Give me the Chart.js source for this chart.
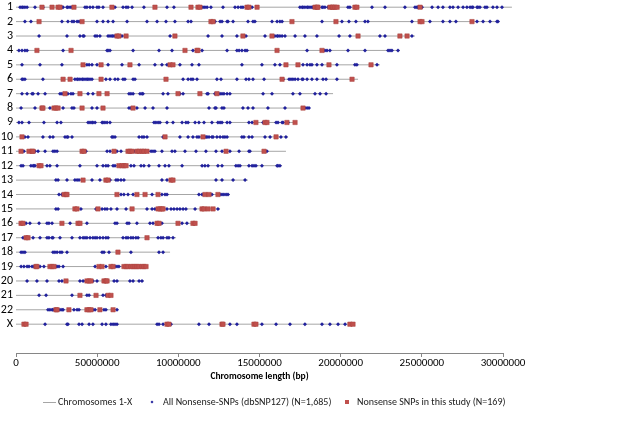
<!DOCTYPE html>
<html>
<head>
<meta charset="utf-8">
<script src="https://cdn.jsdelivr.net/npm/chart.js@4.4.0/dist/chart.umd.min.js"></script>
<style>
  html, body { margin: 0; padding: 0; background: #fff; }
  #wrap { width: 637px; height: 421px; }
</style>
</head>
<body>
<div id="wrap"><canvas id="snp-chart" width="637" height="421"></canvas></div>
<script>
// chromosome names, top to bottom
const chromNames = ['1','2','3','4','5','6','7','8','9','10','11','12','13','14','15','16','17','18','19','20','21','22','X'];

// length of each chromosome line, in Mb of the x axis
const chromLenMb = [305.5, 298, 245.8, 236.5, 224.2, 210.7, 195.3, 181.1, 173.1, 167.6, 166.3, 163.9,
                    142.9, 131.8, 125.7, 110.9, 98.6, 94.9, 80.7, 78.8, 59.8, 62.8, 208.8];

// x axis tick labels as printed on the chart
const xTickLabels = ['0', '50000000', '10000000', '15000000', '20000000', '25000000', '30000000'];

// all nonsense SNPs (dbSNP127), positions in Mb, one list per chromosome
const allSnpsMb = [
  [2.5,3.7,4.3,5.5,6.8,11.7,16.6,28.3,29,31.4,32,33.3,34.5,42.5,43.7,45.6,47.4,49.9,51.1,53.6,61,65.9,67.8,69,71.5,78.8,93,97.3,115.2,116.4,117.7,120.1,127.5,134.9,136.8,138.6,139.8,145.4,174.9,176.2,176.8,178,179.3,179.9,181.1,182.3,183,188.5,189.1,190.3,192.2,204.5,205.7,219.3,227.3,239.6,245.8,247,247.6,250.1,256.3,260,263,267.3,269.2,272.3,275.4,277.8,279.7,280.9,281.5,284,284.6,285.8,288.9,290.1,293.8,296.3,299.4,302.5],
  [5.5,9.2,28.3,32,34.5,35.7,37.6,38.8,49.9,53.6,56.7,59.8,68.4,80.7,86.9,92.4,97.9,106,107.8,122.6,125.7,126.9,130,130.6,133.7,142.9,146,147.2,157.7,160.8,162.6,163.9,188.5,200.8,205.1,209.4,215,216.8,243.9,255,263,267.3,271,284,287.7,292,296.3,296.9],
  [14.2,31.4,39.4,41.3,41.9,48.7,49.9,51.7,56.7,57.9,59.1,59.8,61,65.3,94.9,118.3,126.9,136.1,141.7,153.4,159.5,160.8,161.4,162.6,163.9,165.7,171.9,178,185.4,199,205.7,224.2,227.3,243.9],
  [1.8,3.7,5.5,6.8,29,56.1,56.7,57.9,72.1,88.1,96.1,109,114.6,130,136.1,137.4,139.2,141.1,142.3,179.3,190.3,191.6,193.4,204.5,215,229.2,230.4,231.6,235.3],
  [3.7,14.8,28.3,43.7,45,46.8,49.9,56.7,65.3,75.8,85.6,89.9,93,101,108.4,112.7,139.2,151.5,159.5,162.6,176.8,179.3,181.1,182.3,185.4,188.5,197.7,208.8,210,222.4],
  [3.7,4.3,5.5,16.6,36.3,37.6,38.2,39.4,40.7,41.3,42.5,43.7,44.4,45.6,46.8,55.4,57.9,61,62.8,65.9,67.1,72.1,73.3,102.9,106,107.8,109,111.5,123.8,126.3,136.1,141.7,143.5,146,152.8,164.5,168.2,169.4,170.6,171.9,173.7,176.2,176.8,179.3,182.3,185.4,189.1,191,197.7],
  [3.7,6.8,9.9,10.5,13.6,17.9,27.1,28.3,32,33.9,35.1,44.4,47.4,69.6,70.8,72.1,76.4,77.6,78.2,90.6,93.6,101,102.9,117.7,118.3,122.6,124.4,125.7,126.9,128.1,130,131.8,152.2,157.7,170.6,174.9,184.2,187.3,191],
  [3.1,11.7,20.9,29,34.5,35.7,46.8,49.9,69.6,70.8,74.5,79.5,84.4,93,118.9,122.6,123.2,126.9,128.1,139.8,142.9,146,155.2,165.7,178,179.3,180.5],
  [1.8,3.7,8,17.2,25.3,27.7,44.4,45.6,46.8,47.4,48.7,53,53.6,54.8,56.1,57.9,85,86.2,87.5,88.7,93,96.7,102.3,104.7,106,110.3,112.7,115.8,120.7,124.4,125.7,126.9,130,131.8,143.5,145.4,152.2,160.2,161.4,163.9,164.5,167.6],
  [5.5,7.4,16.6,20.9,22.8,30.2,31.4,32,34.5,59.1,59.8,61,75.8,77.6,78.8,80.7,90.6,101,106,109,111.5,112.7,117,117.7,118.9,120.7,121.4,123.8,125.7,127.5,128.7,130,139.2,140.4,143.5,145.4,153.4,156.5,163.2,166.3],
  [4.9,11.7,13.6,17.9,22.8,24,25.3,43.1,56.1,57.9,62.2,64.7,73.3,81.3,83.2,84.4,85.6,89.9,96.1,97.9,104.1,110.9,117,123.2,126.9,131.8,137.4,143.5,144.1,154.6],
  [3.1,4.3,9.2,10.5,11.1,11.7,19.1,20.9,25.3,39.4,49.9,53.6,55.4,56.7,59.8,61,70.8,72.7,77,78.8,81.9,88.1,91.8,94.2,102.3,114.6,116.4,118.3,124.4,126.9,135.5,136.8,138,143.5,145.4,146.6,147.8,151.5,160.8,161.4,162.6],
  [24.6,25.9,31.4,36.3,37.6,38.8,46.8,51.7,57.9,61.6,62.8,64.7,66.5,89.9,93,123.2,126.9,133.7,141.1],
  [26.5,28.3,64.7,66.5,69,72.1,83.8,89.9,91.8,93,112.7,114.6,120.7,125.7,126.9,128.1,129.4,130.6],
  [24.6,25.9,40,49.3,53,54.8,56.1,58.5,62.2,67.8,80.7,83.8,85.6,93,95.5,97.3,99.2,101,102.9,104.7,110.3,124.4],
  [6.2,8.6,14.2,19.1,20.3,22.2,33.3,43.7,61,62.2,68.4,69.6,74.5,82.5,84.4,89.9,102.3,105.3],
  [4.3,10.5,14.8,19.1,20.3,22.2,22.8,27.1,34.5,39.4,41.3,42.5,43.7,45.6,47.4,48.7,49.9,51.7,53.6,55.4,56.7,65.9,67.8,69,70.8,72.1,73.9,75.2,87.5,89.3,90.6,93,94.2,96.7],
  [3.1,4.3,5.5,22.8,24,25.3,27.1,28.3,31.4,53,54.2,57.3,70.8,88.1,90.6],
  [3.1,4.9,6.8,8,9.9,11.1,14.8,17.2,24.6,25.3,26.5,29,48.7,55.4,61,62.2,63.4,70.2,76.4],
  [6.8,12.9,19.1,26.5,28.3,39.4,41.3,43.1,47.4,49.9,60.4,62.2,70.2,72.1,75.8,77.6],
  [14.2,18.5,34.5,43.7,45,53.6,55.4],
  [19.7,20.9,22.2,22.8,27.1,28.3,29,35.7,37.6,38.8,47.4,48.7,54.2,55.4,62.2],
  [17.9,31.4,32,38.8,40.7,45,47.4,53,55.4,58.5,59.8,61,62.2,86.9,88.1,90.6,95.5,112.7,118.9,131.8,136.1,151.5,160.2,168.8,178,188.5,193.4,198.4,202.7]
];

// nonsense SNPs found in this study, positions in Mb, one list per chromosome
const studySnpsMb = [
  [16,22.2,25.9,27.1,35.7,59.1,85.6,107.8,112.1,113.3,142.3,143.5,148.5,184.2,185.4,186,193.4,194.7,195.3,196.5,197.8,208.8,210,248.9],
  [14.2,40.7,120.1,121.4,170,197.1,248.9,250.1,280.9],
  [62.2,63.4,67.8,97.9,139.8,157.7,210.7,236.5,240.9],
  [12.9,33.9,104.1,111.5,112.1,160.8,188.5],
  [41.3,52.4,70.2,94.9,96.7,166.3,173.7,192.8,218.7],
  [29,33.3,52.4,92.4,163.9,207],
  [30.2,39.4,51.1,56.1,99.8,113.3,123.8],
  [16,16.6,23.4,24.6,25.9,40.7,53.6,72.1,176.8],
  [147.8,153.4,154.6,166.9,171.9],
  [3.7,91.8,115.2,160.2],
  [3.1,8,9.9,10.5,40.7,41.9,60.4,69,70.2,71.5,74.5,75.8,77.6,78.8,80.7,129.4,152.8],
  [14.2,15.4,63.4,65.3,66.5,67.8],
  [41.3,55.4,56.7,95.5,96.7],
  [29.6,30.8,31.4,62.2,74.5,79.5,87.5,116.4,118.9,124.4],
  [36.3,37.6,50.5,71.5,87.5,88.7,89.9,90.6,114.6,115.8,118.3,121.4],
  [3.1,4.3,28.3,38.2,39.4,86.9,88.1,99.8,109,110.3],
  [6.2,7.4,80.7],
  [62.8],
  [12.3,12.9,20.9,22.2,23.4,51.1,53,58.5,59.8,66.5,67.8,69,70.8,72.1,73.3,74.5,75.8,77.6,78.8,80.1],
  [30.8,43.7,45,46.2,54.2,55.4,56.1],
  [39.4,49.3,56.7,58.5],
  [24.6,25.3,32.6,43.7,45,46.2,51.7,59.8],
  [4.9,6.2,93,94.2,126.9,127.5,146.6,147.8,205.7,207.6]
];

const legendLabels = ['Chromosomes 1-X', 'All Nonsense-SNPs (dbSNP127) (N=1,685)', 'Nonsense SNPs in this study (N=169)'];

const MB = 1000000;
const lineColor = '#a6a6a6';
const blueColor = '#20209c';
const redColor = '#c0504d';
const fontFamily = 'Carlito, Lato, sans-serif';

// row value on the y axis: chromosome 1 at the top
const rowY = i => chromNames.length + 1 - i;

const chromLines = chromNames.map((name, i) => ({
  label: legendLabels[0],
  data: [{x: 0, y: rowY(i)}, {x: chromLenMb[i] * MB, y: rowY(i)}],
  showLine: true,
  borderColor: lineColor,
  borderWidth: 1,
  pointRadius: 0,
  clip: false,
  order: 3
}));

const allPoints = allSnpsMb.flatMap((list, i) => list.map(v => ({x: v * MB, y: rowY(i)})));
const studyPoints = studySnpsMb.flatMap((list, i) => list.map(v => ({x: v * MB, y: rowY(i)})));

// legend drawn under the axis title
const bottomLegend = {
  id: 'bottomLegend',
  afterDraw(chart) {
    const ctx = chart.ctx;
    const y = 402;
    ctx.save();
    ctx.font = '10px ' + fontFamily;
    ctx.textBaseline = 'middle';
    ctx.fillStyle = '#222';

    ctx.strokeStyle = lineColor;
    ctx.lineWidth = 1;
    ctx.beginPath();
    ctx.moveTo(43, y + 0.5);
    ctx.lineTo(56, y + 0.5);
    ctx.stroke();
    ctx.fillText(legendLabels[0], 58, y);

    ctx.fillStyle = blueColor;
    ctx.beginPath();
    ctx.moveTo(152, y - 1.5);
    ctx.lineTo(153.5, y);
    ctx.lineTo(152, y + 1.5);
    ctx.lineTo(150.5, y);
    ctx.closePath();
    ctx.fill();
    ctx.fillStyle = '#222';
    ctx.fillText(legendLabels[1], 163, y);

    ctx.fillStyle = redColor;
    ctx.fillRect(345, y - 2, 4, 4);
    ctx.fillStyle = '#222';
    ctx.fillText(legendLabels[2], 357, y);
    ctx.restore();
  }
};

new Chart(document.getElementById('snp-chart'), {
  type: 'scatter',
  data: {
    datasets: [
      ...chromLines,
      {
        label: legendLabels[1],
        data: allPoints,
        pointStyle: 'rectRot',
        pointRadius: 2,
        backgroundColor: blueColor,
        borderColor: blueColor,
        borderWidth: 0,
        clip: false,
        order: 2
      },
      {
        label: legendLabels[2],
        data: studyPoints,
        pointStyle: 'rect',
        pointRadius: 3.1,
        backgroundColor: redColor,
        borderColor: '#a8403d',
        borderWidth: 0.5,
        clip: false,
        order: 1
      }
    ]
  },
  options: {
    responsive: false,
    animation: false,
    devicePixelRatio: 1,
    layout: { padding: { top: 5, right: 134, left: 0, bottom: 0 } },
    plugins: {
      legend: { display: false },
      tooltip: { enabled: false }
    },
    scales: {
      x: {
        type: 'linear',
        min: 0,
        max: 300 * MB,
        afterBuildTicks: scale => {
          scale.ticks = xTickLabels.map((_, i) => ({ value: i * 50 * MB }));
        },
        afterFit: scale => { scale.height = 68; },
        ticks: {
          callback: (value, index) => xTickLabels[index],
          autoSkip: false,
          maxRotation: 0,
          padding: 0,
          color: '#000',
          font: { family: fontFamily, size: 11 }
        },
        grid: {
          drawOnChartArea: false,
          drawTicks: true,
          tickLength: 4,
          color: '#868686'
        },
        border: { color: '#868686' },
        title: {
          display: true,
          text: 'Chromosome length (bp)',
          color: '#000',
          font: { family: fontFamily, size: 9.5, weight: 'bold' },
          padding: { top: 0, bottom: 39 }
        }
      },
      y: {
        type: 'linear',
        min: 0,
        max: chromNames.length + 1,
        afterBuildTicks: scale => {
          scale.ticks = chromNames.map((_, i) => ({ value: rowY(i) }));
        },
        afterFit: scale => { scale.width = 16; },
        ticks: {
          callback: value => chromNames[chromNames.length + 1 - value],
          autoSkip: false,
          padding: 3,
          color: '#000',
          font: { family: fontFamily, size: 12, lineHeight: 0.7 }
        },
        grid: { display: false, drawTicks: false },
        border: { display: false }
      }
    }
  },
  plugins: [bottomLegend]
});
</script>
</body>
</html>
